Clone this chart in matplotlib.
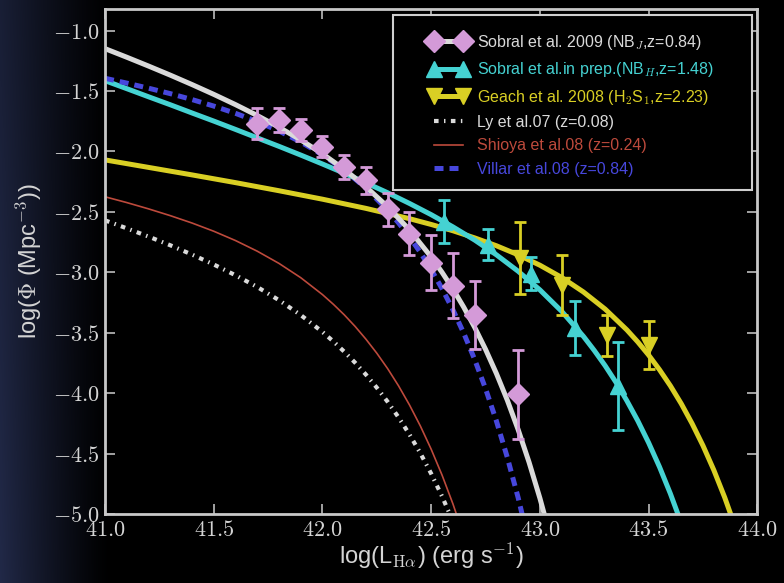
import matplotlib
matplotlib.use('Agg')
import matplotlib.pyplot as plt
from matplotlib.lines import Line2D
from matplotlib.patches import Rectangle
from matplotlib.ticker import FuncFormatter, MultipleLocator
import numpy as np

plt.rcParams['font.family'] = ['Liberation Sans', 'DejaVu Sans']
plt.rcParams['mathtext.fontset'] = 'cm'

sobral09_fit_x = [41.0, 41.1, 41.2, 41.3, 41.4, 41.5, 41.6, 41.7, 41.8, 41.9, 42.0, 42.1, 42.2, 42.3,
                  42.4, 42.5, 42.55, 42.6, 42.65, 42.7, 42.75, 42.8, 42.85, 42.9, 42.95, 43.0, 43.05]
sobral09_fit_y = [-1.150, -1.221, -1.294, -1.369, -1.447, -1.528, -1.613, -1.703, -1.800, -1.905,
                  -2.020, -2.148, -2.293, -2.458, -2.649, -2.873, -3.000, -3.138, -3.289, -3.455,
                  -3.637, -3.837, -4.057, -4.301, -4.570, -4.868, -5.198]

sobral_prep_fit_x = [41.0, 41.1, 41.2, 41.3, 41.4, 41.5, 41.6, 41.7, 41.8, 41.9, 42.0, 42.1, 42.2,
                     42.3, 42.4, 42.5, 42.6, 42.7, 42.8, 42.9, 43.0, 43.1, 43.2, 43.25, 43.3, 43.35,
                     43.4, 43.45, 43.5, 43.55, 43.6, 43.65]
sobral_prep_fit_y = [-1.415, -1.481, -1.548, -1.614, -1.682, -1.749, -1.818, -1.888, -1.958, -2.030,
                     -2.104, -2.180, -2.260, -2.342, -2.430, -2.523, -2.624, -2.733, -2.855, -2.991,
                     -3.145, -3.322, -3.529, -3.646, -3.772, -3.910, -4.062, -4.227, -4.409, -4.609,
                     -4.830, -5.073]

geach_fit_x = [41.0, 41.2, 41.4, 41.6, 41.8, 42.0, 42.2, 42.4, 42.5, 42.6, 42.7, 42.8, 42.9, 43.0,
               43.1, 43.2, 43.3, 43.4, 43.45, 43.5, 43.55, 43.6, 43.65, 43.7, 43.75, 43.8, 43.85, 43.9]
geach_fit_y = [-2.070, -2.132, -2.194, -2.258, -2.325, -2.395, -2.471, -2.556, -2.604, -2.656,
               -2.715, -2.780, -2.855, -2.941, -3.042, -3.162, -3.304, -3.476, -3.575, -3.684,
               -3.805, -3.938, -4.086, -4.251, -4.433, -4.636, -4.862, -5.114]

ly_fit_x = [41.0, 41.1, 41.2, 41.3, 41.4, 41.5, 41.6, 41.7, 41.8, 41.9, 42.0, 42.05, 42.1, 42.15,
            42.2, 42.25, 42.3, 42.35, 42.4, 42.45, 42.5, 42.55, 42.6]
ly_fit_y = [-2.570, -2.636, -2.704, -2.776, -2.853, -2.935, -3.024, -3.121, -3.230, -3.353, -3.493,
            -3.571, -3.656, -3.747, -3.846, -3.954, -4.071, -4.200, -4.340, -4.495, -4.665, -4.853,
            -5.060]

shioya_fit_x = [41.0, 41.1, 41.2, 41.3, 41.4, 41.5, 41.6, 41.7, 41.8, 41.9, 42.0, 42.05, 42.1, 42.15,
                42.2, 42.25, 42.3, 42.35, 42.4, 42.45, 42.5, 42.55, 42.6, 42.65]
shioya_fit_y = [-2.375, -2.423, -2.475, -2.531, -2.592, -2.660, -2.737, -2.825, -2.926, -3.044,
                -3.184, -3.264, -3.351, -3.447, -3.553, -3.669, -3.797, -3.939, -4.096, -4.270,
                -4.463, -4.677, -4.915, -5.180]

villar_fit_x = [41.0, 41.1, 41.2, 41.3, 41.4, 41.5, 41.6, 41.7, 41.8, 41.9, 42.0, 42.1, 42.2, 42.3,
                42.35, 42.4, 42.45, 42.5, 42.55, 42.6, 42.65, 42.7, 42.75, 42.8, 42.85, 42.9, 42.95]
villar_fit_y = [-1.395, -1.435, -1.477, -1.522, -1.571, -1.625, -1.685, -1.753, -1.831, -1.922,
                -2.028, -2.153, -2.304, -2.486, -2.591, -2.707, -2.835, -2.977, -3.135, -3.310,
                -3.504, -3.721, -3.962, -4.230, -4.530, -4.864, -5.238]

# measured luminosity functions
sobral09_x = [41.7, 41.8, 41.9, 42.0, 42.1, 42.2, 42.3, 42.4, 42.5, 42.6, 42.7, 42.9]
sobral09_y = [-1.77, -1.74, -1.82, -1.96, -2.13, -2.24, -2.48, -2.68, -2.92, -3.11, -3.35, -4.01]
sobral09_err = [0.13, 0.10, 0.09, 0.09, 0.10, 0.11, 0.14, 0.18, 0.23, 0.27, 0.28, 0.37]

sobral_prep_x = [42.56, 42.76, 42.96, 43.16, 43.36]
sobral_prep_y = [-2.58, -2.77, -3.01, -3.46, -3.94]
sobral_prep_err = [0.18, 0.13, 0.14, 0.22, 0.36]

geach_x = [42.91, 43.1, 43.31, 43.5]
geach_y = [-2.88, -3.105, -3.52, -3.60]
geach_err = [0.30, 0.25, 0.17, 0.20]

labels = [r'Sobral et al. 2009 (NB$_J$,z=0.84)',
          r'Sobral et al.in prep.(NB$_H$,z=1.48)',
          r'Geach et al. 2008 (H$_{\mathsf{2}}$S$_1$,z=2.23)',
          'Ly et al.07 (z=0.08)',
          'Shioya et al.08 (z=0.24)',
          'Villar et al.08 (z=0.84)']

c_white = '#dadada'
c_pink = '#d49ad8'
c_cyan = '#45d2d2'
c_yellow = '#d9cf24'
c_red = '#bd4a3c'
c_blue = '#4747dc'
c_text = '#d4d4d4'
ly_dash = (0, (1.1, 1.3, 0.35, 1.3))
villar_dash = (0, (1.8, 1.2))

fig = plt.figure(figsize=(7.84, 5.83), dpi=100, facecolor='black')

# dark blue haze down the left side of the slide
bg = fig.add_axes([0, 0, 1, 1], zorder=-10)
bg.axis('off')
gx, gy = np.meshgrid(np.linspace(0, 1, 400), np.linspace(0, 1, 300))
w = np.clip(1 - gx / 0.14, 0, 1) ** 1.2 * (0.75 + 0.25 * gy)
navy = np.array([0.13, 0.16, 0.28])
bg.imshow(w[..., None] * navy, extent=[0, 1, 0, 1], aspect='auto', origin='upper')

ax = fig.add_axes([0.134, 0.118, 0.832, 0.867], facecolor='black')

ax.plot(ly_fit_x, ly_fit_y, color=c_white, lw=3.0, ls=ly_dash)
ax.plot(shioya_fit_x, shioya_fit_y, color=c_red, lw=1.2)
ax.plot(geach_fit_x, geach_fit_y, color=c_yellow, lw=3.6)
ax.plot(sobral_prep_fit_x, sobral_prep_fit_y, color=c_cyan, lw=3.6)
ax.plot(villar_fit_x, villar_fit_y, color=c_blue, lw=3.6, ls=villar_dash)
ax.plot(sobral09_fit_x, sobral09_fit_y, color=c_white, lw=3.6)

eb = dict(capsize=4, elinewidth=2, capthick=2, ls='none', zorder=5)
ax.errorbar(sobral09_x, sobral09_y, yerr=sobral09_err, fmt='D', ms=11, color=c_pink, **eb)
ax.errorbar(sobral_prep_x, sobral_prep_y, yerr=sobral_prep_err, fmt='^', ms=12, color=c_cyan, **eb)
ax.errorbar(geach_x, geach_y, yerr=geach_err, fmt='v', ms=12, color=c_yellow, **eb)

ax.set_xlim(41.0, 44.0)
ax.set_ylim(-5.0, -0.82)
ax.xaxis.set_major_locator(MultipleLocator(0.5))
ax.yaxis.set_major_locator(MultipleLocator(0.5))
fmt = FuncFormatter(lambda v, p: r'$%.1f$' % v)
ax.xaxis.set_major_formatter(fmt)
ax.yaxis.set_major_formatter(fmt)
ax.tick_params(direction='in', length=7, width=1.2, color='#bdbdbd', top=True, right=True,
               labelsize=16, labelcolor=c_text, pad=4)
for s in ax.spines.values():
    s.set_color('#c8c8c8')
    s.set_linewidth(2)

ax.set_xlabel(r'log(L$_{\mathrm{H}\alpha}$) (erg s$^{\mathsf{-1}}$)', fontsize=17, color=c_text, labelpad=0)
ax.set_ylabel(r'log($\Phi$ (Mpc$^{\mathsf{-3}}$))', fontsize=17, color=c_text, labelpad=6)

# legend box drawn separately so the entries can sit with a wide left margin
ax.add_patch(Rectangle((0.4415, 0.6413), 0.5504, 0.3462, transform=ax.transAxes,
                       facecolor='black', edgecolor='#cfcfcf', lw=1.5, zorder=6))

handles = [
    Line2D([], [], color=c_white, lw=3.6, marker='D', ms=11, mfc=c_pink, mec=c_pink),
    Line2D([], [], color=c_cyan, lw=3.6, marker='^', ms=12),
    Line2D([], [], color=c_yellow, lw=3.6, marker='v', ms=12),
    Line2D([], [], color=c_white, lw=3.0, ls=ly_dash),
    Line2D([], [], color=c_red, lw=1.2),
    Line2D([], [], color=c_blue, lw=3.6, ls=villar_dash),
]
leg = ax.legend(handles, labels, loc='upper left', bbox_to_anchor=(0.4967, 0.952),
                borderaxespad=0, borderpad=0, numpoints=2, fontsize=11.5, handlelength=2.4,
                handletextpad=0.6, labelspacing=0.52, frameon=False,
                labelcolor=[c_white, c_cyan, c_yellow, c_white, c_red, c_blue])
leg.set_zorder(7)

fig.savefig('out.png', dpi=100, facecolor=fig.get_facecolor())
